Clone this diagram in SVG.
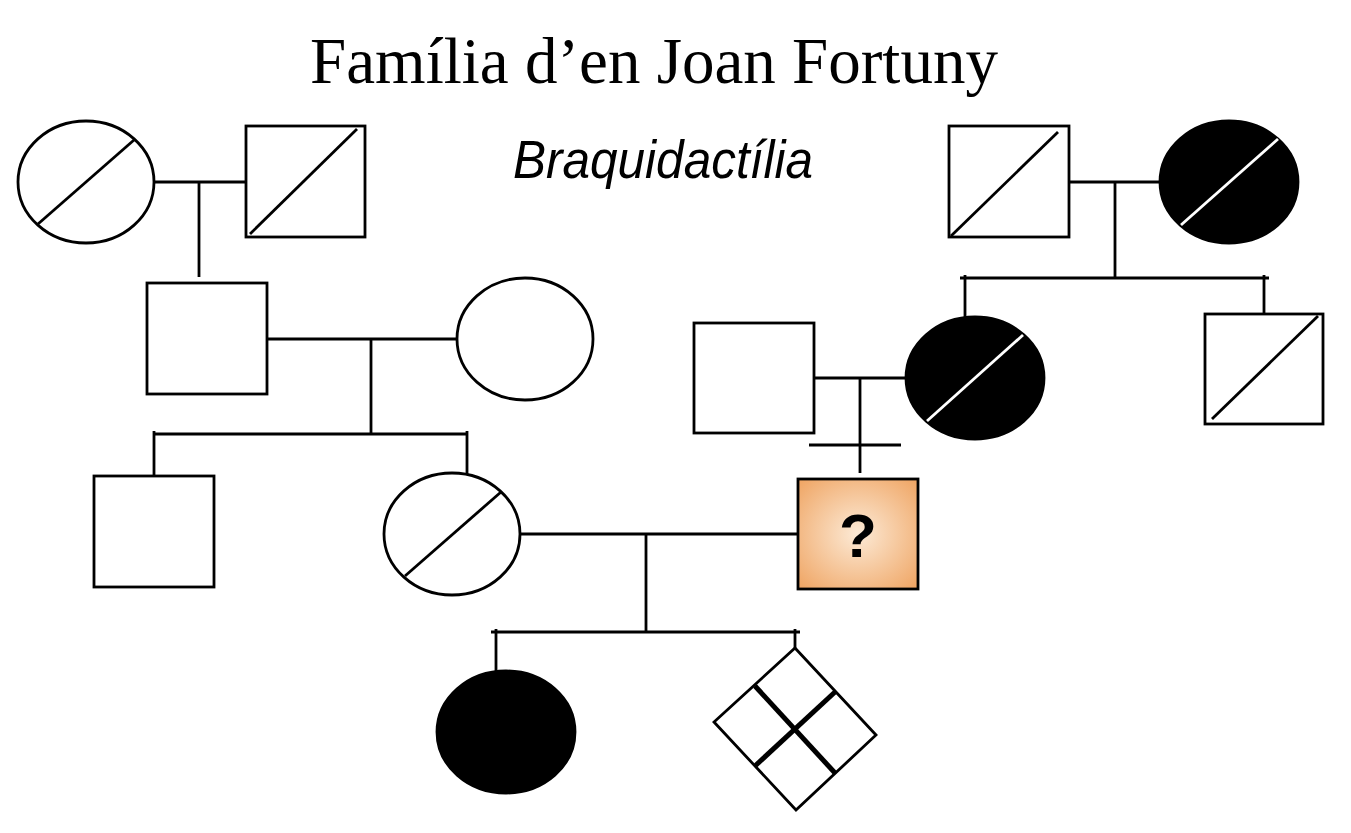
<svg xmlns="http://www.w3.org/2000/svg" width="1351" height="833" viewBox="0 0 1351 833">
  <style>
    .ln { stroke: #000; stroke-width: 2.8; fill: none; }
    .sym { stroke: #000; stroke-width: 2.8; fill: #fff; }
    .aff { stroke: #000; stroke-width: 2.8; fill: #000; }
    .slash { stroke: #000; stroke-width: 2.8; }
    .wslash { stroke: #fff; stroke-width: 2.8; }
    .thick { stroke: #000; stroke-width: 5; }
    .title { font-family: "Liberation Serif", "Times New Roman", serif; font-size: 65px; fill: #000; }
    .sub { font-family: "Liberation Sans", Arial, sans-serif; font-style: italic; font-size: 54px; fill: #000; }
    .q { font-family: "Liberation Sans", Arial, sans-serif; font-weight: bold; font-size: 62px; fill: #000; }
  </style>
  <defs>
    <radialGradient id="orange" cx="50%" cy="50%" r="70%">
      <stop offset="0" stop-color="#FCEAD6"/>
      <stop offset="1" stop-color="#EFA462"/>
    </radialGradient>
  </defs>
  <rect width="1351" height="833" fill="#fff"/>

  <text class="title" x="654" y="83" text-anchor="middle">Família d’en Joan Fortuny</text>
  <text class="sub" x="513" y="178" textLength="300" lengthAdjust="spacingAndGlyphs">Braquidactília</text>

  <g id="connectors">
    <!-- gen1 left couple -->
    <line class="ln" x1="154" y1="182" x2="246" y2="182"/>
    <line class="ln" x1="199" y1="182" x2="199" y2="277"/>
    <!-- gen2 left couple -->
    <line class="ln" x1="267" y1="339" x2="457" y2="339"/>
    <line class="ln" x1="371" y1="339" x2="371" y2="434"/>
    <line class="ln" x1="153" y1="434" x2="468" y2="434"/>
    <line class="ln" x1="154" y1="431" x2="154" y2="476"/>
    <line class="ln" x1="467" y1="431" x2="467" y2="474"/>
    <!-- gen1 right couple -->
    <line class="ln" x1="1069" y1="182" x2="1160" y2="182"/>
    <line class="ln" x1="1115" y1="182" x2="1115" y2="278"/>
    <line class="ln" x1="960" y1="278" x2="1269" y2="278"/>
    <line class="ln" x1="965" y1="275" x2="965" y2="317"/>
    <line class="ln" x1="1264" y1="275" x2="1264" y2="314"/>
    <!-- gen2 right couple -->
    <line class="ln" x1="814" y1="378" x2="906" y2="378"/>
    <line class="ln" x1="860" y1="378" x2="860" y2="473"/>
    <line class="ln" x1="809" y1="445" x2="901" y2="445"/>
    <!-- gen3 couple -->
    <line class="ln" x1="520" y1="534" x2="798" y2="534"/>
    <line class="ln" x1="646" y1="534" x2="646" y2="632"/>
    <line class="ln" x1="491" y1="632" x2="800" y2="632"/>
    <line class="ln" x1="496" y1="629" x2="496" y2="671"/>
    <line class="ln" x1="795" y1="629" x2="795" y2="648"/>
  </g>

  <g id="gen1-left-female">
    <ellipse class="sym" cx="86" cy="182" rx="68" ry="61"/>
    <line class="slash" x1="38" y1="224" x2="134" y2="140"/>
  </g>
  <g id="gen1-left-male">
    <rect class="sym" x="246" y="126" width="119" height="111"/>
    <line class="slash" x1="250" y1="234" x2="357" y2="129"/>
  </g>
  <g id="gen2-left-male">
    <rect class="sym" x="147" y="283" width="120" height="111"/>
  </g>
  <g id="gen2-left-female">
    <ellipse class="sym" cx="525" cy="339" rx="68" ry="61"/>
  </g>
  <g id="gen3-brother">
    <rect class="sym" x="94" y="476" width="120" height="111"/>
  </g>
  <g id="gen3-mother">
    <ellipse class="sym" cx="452" cy="534" rx="68" ry="61"/>
    <line class="slash" x1="405" y1="576" x2="501" y2="492"/>
  </g>
  <g id="gen1-right-male">
    <rect class="sym" x="949" y="126" width="120" height="111"/>
    <line class="slash" x1="951" y1="236" x2="1058" y2="132"/>
  </g>
  <g id="gen1-right-female">
    <ellipse class="aff" cx="1229" cy="182" rx="69" ry="61"/>
    <line class="wslash" x1="1181" y1="225" x2="1278" y2="139"/>
  </g>
  <g id="gen2-right-male">
    <rect class="sym" x="694" y="323" width="120" height="110"/>
  </g>
  <g id="gen2-right-female">
    <ellipse class="aff" cx="975" cy="378" rx="69" ry="61"/>
    <line class="wslash" x1="927" y1="421" x2="1023" y2="335"/>
  </g>
  <g id="gen2-right-brother">
    <rect class="sym" x="1205" y="314" width="118" height="110"/>
    <line class="slash" x1="1212" y1="419" x2="1318" y2="316"/>
  </g>
  <g id="joan-fortuny">
    <rect x="798" y="479" width="120" height="110" fill="url(#orange)" stroke="#000" stroke-width="2.8"/>
    <text class="q" x="858" y="557" text-anchor="middle">?</text>
  </g>
  <g id="gen4-daughter">
    <ellipse class="aff" cx="506" cy="732" rx="69" ry="61"/>
  </g>
  <g id="gen4-pregnancy">
    <polygon class="sym" points="795,648 876,735 796,810 714,722"/>
    <line class="thick" x1="755" y1="686" x2="835" y2="773"/>
    <line class="thick" x1="835" y1="692" x2="755" y2="766"/>
  </g>
</svg>
